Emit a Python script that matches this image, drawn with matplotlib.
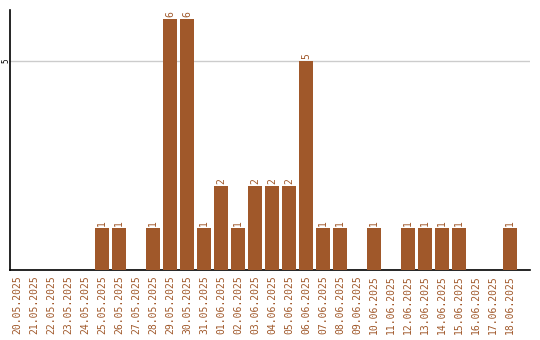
import numpy as np
import matplotlib
matplotlib.use('Agg')
import matplotlib.pyplot as plt

dates = ['20.05.2025', '21.05.2025', '22.05.2025', '23.05.2025', '24.05.2025',
         '25.05.2025', '26.05.2025', '27.05.2025', '28.05.2025', '29.05.2025',
         '30.05.2025', '31.05.2025', '01.06.2025', '02.06.2025', '03.06.2025',
         '04.06.2025', '05.06.2025', '06.06.2025', '07.06.2025', '08.06.2025',
         '09.06.2025', '10.06.2025', '11.06.2025', '12.06.2025', '13.06.2025',
         '14.06.2025', '15.06.2025', '16.06.2025', '17.06.2025', '18.06.2025']
counts = [0, 0, 0, 0, 0, 1, 1, 0, 1, 6, 6, 1, 2, 1, 2, 2, 2, 5, 1, 1,
          0, 1, 0, 1, 1, 1, 1, 0, 0, 1]

color = '#a0582a'
plt.rcParams['font.family'] = ['DejaVu Sans Mono']

fig = plt.figure(figsize=(5.4, 3.4), dpi=100)
ax = fig.add_axes([10/540, 70/340, 520/540, 260/340])

x = np.arange(len(dates))
ax.bar(x, counts, width=0.82, color=color, zorder=3)
for xi, c in zip(x, counts):
    if c > 0:
        ax.text(xi, c + 0.05, str(c), rotation=90, ha='center', va='bottom',
                fontsize=7, color=color)

ax.set_xlim(-0.41, 30.18)
ax.set_ylim(0, 6.22)
ax.set_yticks([5])
ax.set_yticklabels(['5'], rotation=90, va='center', ha='center', fontsize=5.5)
ax.yaxis.grid(True, color='#cccccc', linewidth=1, zorder=0)
ax.set_xticks(x)
ax.set_xticklabels(dates, rotation=90, fontsize=7, color=color)
ax.tick_params(axis='both', length=0, pad=4)
ax.tick_params(axis='y', pad=3)
for s in ['top', 'right']:
    ax.spines[s].set_visible(False)
ax.spines['left'].set_linewidth(1.2)
ax.spines['bottom'].set_linewidth(1.2)

fig.savefig('out.png', dpi=100)
